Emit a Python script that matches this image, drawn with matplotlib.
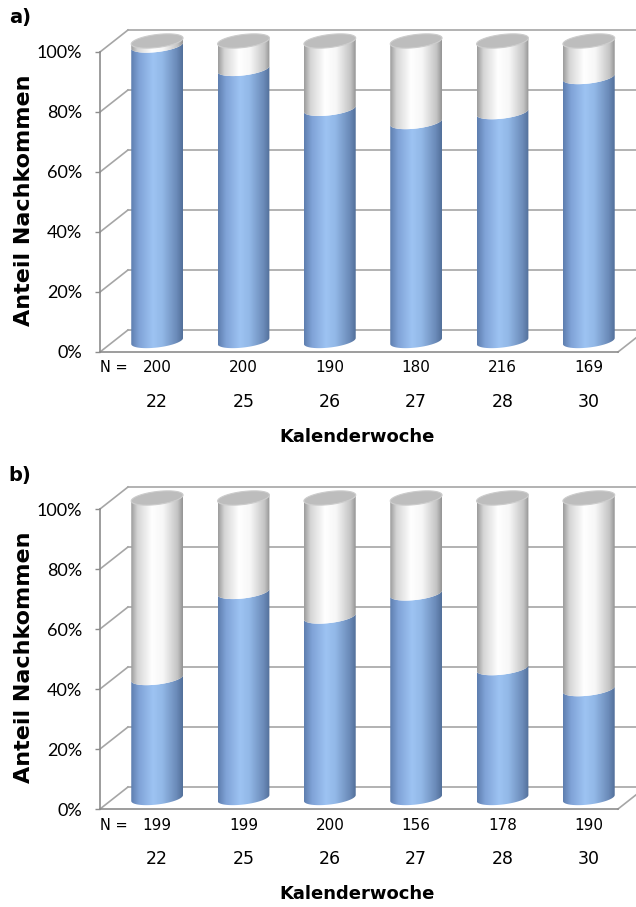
import numpy as np
import matplotlib
matplotlib.use("Agg")
import matplotlib.pyplot as plt
from matplotlib.patches import Polygon
from matplotlib.colors import LinearSegmentedColormap

weeks = ["22", "25", "26", "27", "28", "30"]
n_a = [200, 200, 190, 180, 216, 169]
pct_a = [98.5, 90.7, 77.4, 73.0, 76.3, 88.0]
n_b = [199, 199, 200, 156, 178, 190]
pct_b = [40.0, 68.7, 60.5, 68.2, 43.3, 36.3]
yticks = [0, 20, 40, 60, 80, 100]

W, H = 636, 907
DX, DY = 0.324, 7.33            # depth of the 3d box in data units
RX, RY, SKEW = 0.30, 2.17, 3.3  # cylinder radius, ellipse half height, tilt
PX = 0.72                       # points per pixel at dpi 100
YTOP = 115                      # headroom above 100% for the box and caps

GRID = "#a6a6a6"
AXIS = "#8c8c8c"

blue_cm = LinearSegmentedColormap.from_list(
    "blue", [(0, "#5e7eaf"), (0.15, "#7fa2d6"), (0.42, "#9dc3f2"),
             (0.6, "#93b9e8"), (0.88, "#6b8bb9"), (1, "#52709a")])
white_cm = LinearSegmentedColormap.from_list(
    "white", [(0, "#9c9c9c"), (0.12, "#d4d4d4"), (0.4, "#ffffff"),
              (0.62, "#f7f7f7"), (0.9, "#c4c4c4"), (1, "#949494")])
grad = np.linspace(0, 1, 128)[None, :]


def arc(xc, yc, t):
    x = xc + RX * np.cos(t)
    y = yc + RY * np.sin(t) + SKEW * (x - xc)
    return x, y


def segment(ax, xc, y0, y1, cmap):
    t = np.linspace(np.pi, 2 * np.pi, 60)
    xb, yb = arc(xc, y0, t)
    xt, yt = arc(xc, y1, t[::-1])
    pts = np.column_stack([np.r_[xb, xt], np.r_[yb, yt]])
    poly = Polygon(pts, closed=True, fc="none", ec="none")
    ax.add_patch(poly)
    pad = RY + SKEW * RX + 1
    im = ax.imshow(grad, cmap=cmap, aspect="auto", interpolation="bilinear",
                   extent=[xc - RX, xc + RX, y0 - pad, y1 + pad], zorder=3)
    im.set_clip_path(poly)


def cap(ax, xc, y):
    t = np.linspace(0, 2 * np.pi, 120)
    x, yy = arc(xc, y, t)
    ax.add_patch(Polygon(np.column_stack([x, yy]), closed=True, fc="#bdbdbd",
                         ec="#cccccc", lw=0.8, zorder=4, clip_on=False))


def panel(fig, top_px, pct, ns, tag):
    left, right = 100, 618
    bottom_px = top_px + 300
    hgt = 300 * YTOP / 100
    ax = fig.add_axes([left / W, 1 - bottom_px / H, (right - left) / W, hgt / H])
    hx, hy = DX / 2, DY / 2

    # side wall and back wall gridlines
    for v in yticks:
        ax.plot([-0.5, -0.5 + DX], [v, v + DY], color=GRID, lw=1.2,
                clip_on=False, zorder=1)
        ax.plot([-0.5 + DX, 6.5], [v + DY, v + DY], color=GRID, lw=1.2,
                clip_on=False, zorder=1)
    ax.plot([5.5, 5.5 + DX], [0, DY], color=GRID, lw=1.2, clip_on=False, zorder=1)

    for i, (p, n) in enumerate(zip(pct, ns)):
        xc = i + hx
        segment(ax, xc, hy, hy + p, blue_cm)
        segment(ax, xc, hy + p, hy + 100, white_cm)
        cap(ax, xc, hy + 100)
        ax.annotate(str(n), (xc, 0), xytext=(0, -16 * PX), textcoords="offset points",
                    ha="center", va="center", fontsize=11, family="DejaVu Sans",
                    annotation_clip=False)
        ax.annotate(weeks[i], (xc, 0), xytext=(0, -50 * PX), textcoords="offset points",
                    ha="center", va="center", fontsize=12.5, family="DejaVu Sans",
                    annotation_clip=False)
    ax.annotate("N =", (-0.5, 0), xytext=(0, -16 * PX), textcoords="offset points",
                ha="left", va="center", fontsize=10.5, family="DejaVu Sans",
                annotation_clip=False)

    ax.set_xlim(-0.5, 5.5)
    ax.set_ylim(0, YTOP)
    ax.set_aspect("auto")
    ax.set_facecolor("none")
    for s in ["top", "right"]:
        ax.spines[s].set_visible(False)
    for s in ["left", "bottom"]:
        ax.spines[s].set_color(AXIS)
        ax.spines[s].set_linewidth(1.2)
    ax.spines["left"].set_bounds(0, 100)
    ax.set_xticks([])
    ax.set_yticks(yticks)
    ax.set_yticklabels([f"{v}%" for v in yticks], family="Lato", fontsize=13)
    ax.tick_params(axis="y", direction="out", length=5 * PX, width=1,
                   color=AXIS, pad=13 * PX)

    fig.text(24 / W, 1 - (top_px + 148) / H, "Anteil Nachkommen", rotation=90,
             ha="center", va="center", fontsize=16, fontweight="bold",
             family="DejaVu Sans")
    fig.text(357 / W, 1 - (bottom_px + 85) / H, "Kalenderwoche", ha="center",
             va="center", fontsize=13, fontweight="bold", family="DejaVu Sans")
    fig.text(20 / W, 1 - (top_px - 34) / H, tag, ha="center", va="center",
             fontsize=14, fontweight="bold", family="DejaVu Sans")


fig = plt.figure(figsize=(W / 100, H / 100), dpi=100)
panel(fig, 52, pct_a, n_a, "a)")
panel(fig, 509, pct_b, n_b, "b)")
fig.savefig("out.png", dpi=100)
